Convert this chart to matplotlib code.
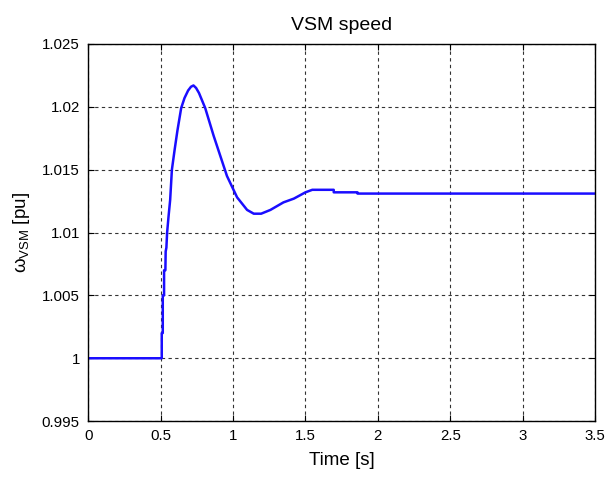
import matplotlib
matplotlib.use("Agg")
import matplotlib.pyplot as plt

plt.rcParams['font.family'] = ['Liberation Sans', 'DejaVu Sans']
plt.rcParams['mathtext.fontset'] = 'custom'
plt.rcParams['mathtext.rm'] = 'Liberation Sans'
plt.rcParams['mathtext.it'] = 'Liberation Sans:italic'

time_s = [0.0, 0.508, 0.508, 0.515, 0.515, 0.524, 0.524, 0.533, 0.535, 0.540,
          0.545, 0.555, 0.566, 0.578, 0.597, 0.616, 0.642, 0.665, 0.690, 0.710,
          0.727, 0.745, 0.765, 0.808, 0.866, 0.958, 1.028, 1.097, 1.143, 1.194,
          1.258, 1.348, 1.420, 1.500, 1.547, 1.695, 1.695, 1.859, 1.859, 3.5]
omega_vsm = [1.0, 1.0, 1.002, 1.002, 1.005, 1.005, 1.007, 1.007, 1.0085, 1.0088,
             1.0100, 1.0113, 1.0126, 1.0150, 1.0166, 1.0181, 1.0199, 1.0207, 1.0213, 1.0216,
             1.0217, 1.0215, 1.0211, 1.0199, 1.0177, 1.0145, 1.0128, 1.0118, 1.0115, 1.0115,
             1.0118, 1.0124, 1.0127, 1.0132, 1.0134, 1.0134, 1.0132, 1.0132, 1.0131, 1.0131]

xticks = [0, 0.5, 1, 1.5, 2, 2.5, 3, 3.5]
xticklabels = ['0', '0.5', '1', '1.5', '2', '2.5', '3', '3.5']
yticks = [0.995, 1.0, 1.005, 1.01, 1.015, 1.02, 1.025]
yticklabels = ['0.995', '1', '1.005', '1.01', '1.015', '1.02', '1.025']

fig = plt.figure(figsize=(6.08, 4.78), dpi=100)
ax = fig.add_axes([0.145, 0.119, 0.834, 0.789])
ax.plot(time_s, omega_vsm, color='#1a0dff', linewidth=1.8)
ax.set_xlim(0, 3.5)
ax.set_ylim(0.995, 1.025)
ax.set_xticks(xticks)
ax.set_xticklabels(xticklabels)
ax.set_yticks(yticks)
ax.set_yticklabels(yticklabels)
ax.grid(True, color='#333333', linestyle=(0, (3, 3)), linewidth=0.8)
ax.tick_params(direction='in', top=True, right=True, labelsize=10.8, length=4, width=0.8, pad=6)
for s in ax.spines.values():
    s.set_linewidth(1.0)
ax.set_title('VSM speed', fontsize=14, pad=10)
ax.set_xlabel('Time [s]', fontsize=13.5, labelpad=6)
ax.set_ylabel(r'$\mathrm{ω}_{\mathrm{VSM}}$ [pu]', fontsize=13.5, labelpad=7)
fig.savefig('out.png', dpi=100)
